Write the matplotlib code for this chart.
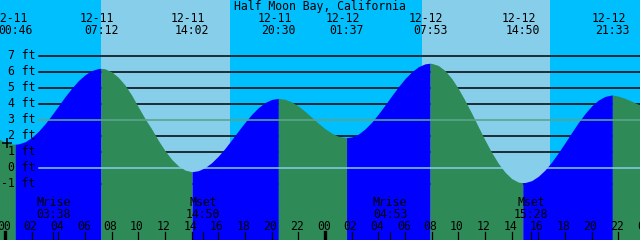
#!/usr/bin/env python3
# tide graph for Half Moon Bay, two days, drawn the way xtide does it:
# sky colour shows day/night, water colour shows rising/falling tide.

import matplotlib
matplotlib.use("Agg")
import matplotlib.pyplot as plt
import matplotlib.transforms as mtransforms

TITLE = "Half Moon Bay, California"
DAYS = ["12-11", "12-12"]

# high / low waters (labels along the top)
EXT_DATE = ["12-11", "12-11", "12-11", "12-11", "12-12", "12-12", "12-12", "12-12"]
EXT_TIME = ["00:46", "07:12", "14:02", "20:30", "01:37", "07:53", "14:50", "21:33"]
EXT_KIND = ["L", "H", "L", "H", "L", "H", "L", "H"]
EXT_HEIGHT = [1.5, 6.23, -0.21, 4.36, 1.91, 6.55, -0.9, 4.57]

# water level every half hour, hours after 12-11 00:00
HOURS = [i / 2 for i in range(-1, 97)]
LEVEL = [1.85, 1.62, 1.51, 1.52, 1.65, 1.92, 2.30, 2.77, 3.31, 3.88,
         4.46, 4.99, 5.46, 5.83, 6.09, 6.22, 6.20, 6.01, 5.67, 5.19,
         4.56, 3.82, 3.10, 2.45, 1.74, 1.10, 0.56, 0.15, -0.11, -0.21,
         -0.15, 0.04, 0.35, 0.76, 1.24, 1.78, 2.33, 2.87, 3.36, 3.78,
         4.10, 4.29, 4.36, 4.30, 4.14, 3.88, 3.55, 3.18, 2.81, 2.47,
         2.19, 2.00, 1.92, 1.95, 2.13, 2.45, 2.87, 3.38, 3.94, 4.52,
         5.08, 5.59, 6.01, 6.33, 6.51, 6.54, 6.41, 6.09, 5.60, 4.97,
         4.23, 3.43, 2.59, 1.76, 0.99, 0.31, -0.24, -0.64, -0.86, -0.89,
         -0.77, -0.50, -0.11, 0.39, 0.97, 1.59, 2.23, 2.85, 3.41, 3.89,
         4.25, 4.48, 4.57, 4.50, 4.36, 4.18, 3.99, 3.80]

# sun (hours after 12-11 00:00)
SUNRISE = [7.22, 31.25]
SUNSET = [16.88, 40.88]

# moon rise / set (bottom labels)
MOON_EVENT = ["Mrise", "Mset", "Mrise", "Mset"]
MOON_DATE = ["12-11", "12-11", "12-12", "12-12"]
MOON_TIME = ["03:38", "14:50", "04:53", "15:28"]

FEET = [-1, 0, 1, 2, 3, 4, 5, 6, 7]
MSL = 3

NIGHT_SKY = "#00BFFF"
DAY_SKY = "#87CEEB"
RISE = "#0000FF"
FALL = "#2E8B57"
DATUM_COL = "#87CEEB"
MSL_COL = "#5AA48A"
FONT = "DejaVu Sans Mono"
FS = 8.3


def to_hours(date, hhmm):
    hh, mm = hhmm.split(":")
    return DAYS.index(date) * 24 + int(hh) + int(mm) / 60


ext_h = [to_hours(d, t) for d, t in zip(EXT_DATE, EXT_TIME)]
moon_h = [to_hours(d, t) for d, t in zip(MOON_DATE, MOON_TIME)]

W, H = 640, 240
fig = plt.figure(figsize=(W / 100, H / 100), dpi=100)
ax = fig.add_axes([0, 0, 1, 1])
ax.set_axis_off()
X0, X1 = -0.375, 47.625
Y0, Y1 = -4.47, 10.49
ax.set_xlim(X0, X1)
ax.set_ylim(Y0, Y1)


def fy(py):
    # pixel row from the top -> axes fraction
    return 1 - py / H


# sky
ax.axvspan(X0, X1, color=NIGHT_SKY, zorder=0, lw=0)
for r, s in zip(SUNRISE, SUNSET):
    ax.axvspan(r, s, color=DAY_SKY, zorder=0, lw=0)

# foot lines behind the water
for f in FEET:
    if f in (0, MSL):
        continue
    ax.axhline(f, xmin=39 / W, xmax=1, color="black", lw=1.1, zorder=1)

# water, one polygon per stretch between two extremes:
# the stretch that ends at a high is rising, the one ending at a low falls
pts = sorted(list(zip(HOURS, LEVEL)) + list(zip(ext_h, EXT_HEIGHT)))
bounds = [X0 - 1] + ext_h + [X1 + 1]
for i in range(len(bounds) - 1):
    a, b = bounds[i], bounds[i + 1]
    seg = [p for p in pts if a <= p[0] <= b]
    if len(seg) < 2:
        continue
    rising = i < len(EXT_KIND) and EXT_KIND[i] == "H"
    ax.fill_between([p[0] for p in seg], Y0, [p[1] for p in seg],
                    color=RISE if rising else FALL, lw=0, zorder=2)

# datum and mean sea level on top
ax.axhline(0, xmin=39 / W, xmax=1, color=DATUM_COL, lw=1.1, zorder=3)
ax.axhline(MSL, xmin=39 / W, xmax=1, color=MSL_COL, lw=1.2, zorder=3)

txt = dict(family=FONT, fontsize=FS, color="black", zorder=5)
lab_tr = mtransforms.blended_transform_factory(ax.transAxes, ax.transData)
for f in FEET:
    ax.text(35 / W, f - 0.19, f"{f} ft", transform=lab_tr, ha="right",
            va="baseline", **txt)
ax.plot([0.15], [1.58], marker="+", color="black", markersize=7,
        markeredgewidth=1.1, zorder=5)

# top: title, then date/time of each high and low
top_tr = mtransforms.blended_transform_factory(ax.transData, ax.transAxes)
ax.text(0.5, fy(10), TITLE, transform=ax.transAxes, ha="center",
        va="baseline", **txt)
for h, d, t in zip(ext_h, EXT_DATE, EXT_TIME):
    ax.text(h - 0.3, fy(22), d, transform=top_tr, ha="center", va="baseline", **txt)
    ax.text(h, fy(34), t, transform=top_tr, ha="center", va="baseline", **txt)

# bottom: moon events, hour labels and ticks
for h, ev, t in zip(moon_h, MOON_EVENT, MOON_TIME):
    ax.text(h, fy(206), ev, transform=top_tr, ha="center", va="baseline", **txt)
    ax.text(h, fy(218), t, transform=top_tr, ha="center", va="baseline", **txt)
    ax.axvline(h, ymin=0, ymax=8 / H, color="black", lw=0.9, zorder=5)

for hr in range(0, 50, 2):
    ax.text(hr - 0.1, fy(230), f"{hr % 24:02d}", transform=top_tr,
            ha="center", va="baseline", **txt)
    ax.axvline(hr, ymin=0, ymax=8 / H, color="black",
               lw=2.4 if hr % 24 == 0 else 0.9, zorder=5)

fig.savefig("out.png", dpi=100)
